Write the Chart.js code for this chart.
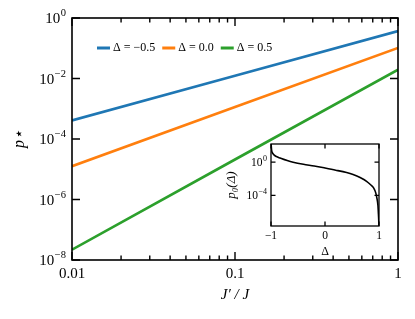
<!DOCTYPE html>
<html lang="en">
<head>
<meta charset="UTF-8">
<title>p* vs J'/J</title>
<script src="https://cdn.jsdelivr.net/npm/chart.js"></script>
<style>
  body { margin: 0; background: #fff; }
  #wrap { position: relative; width: 415px; height: 319px; }
  #main { position: absolute; left: 0; top: 0; }
  #inset { position: absolute; left: 222px; top: 140px; }
</style>
</head>
<body>
<div id="wrap">
  <canvas id="main" width="415" height="319"></canvas>
  <canvas id="inset" width="163" height="120"></canvas>
</div>
<script>
// main panel data
const ratio = [0.01, 0.1, 1];
const deltas = ['Δ = −0.5', 'Δ = 0.0', 'Δ = 0.5'];
const pBlue = [4.1e-4, 1.23e-2, 0.37];
const pOrange = [1.26e-5, 1.15e-3, 0.102];
const pGreen = [2.2e-8, 2.1e-5, 0.0195];
const colors = ['#1f77b4', '#ff7f0e', '#2ca02c'];
const xTicks = [0.01, 0.1, 1];
const yTicks = [1e-8, 1e-6, 1e-4, 1e-2, 1];

// inset data
const dGrid = [-0.999, -0.99, -0.97, -0.94, -0.9, -0.83, -0.7, -0.59, -0.4, -0.2, 0, 0.2, 0.4, 0.52, 0.65, 0.77, 0.85, 0.9, 0.94, 0.96, 0.98, 0.99, 0.995, 1.0];
const p0 = [200, 31, 12.6, 7.1, 4.8, 3.2, 1.6, 1.0, 0.56, 0.35, 0.2, 0.11, 0.056, 0.032, 0.014, 0.005, 0.0018, 8e-4, 2e-4, 5e-5, 6.3e-6, 5e-7, 1e-7, 1e-8];
const insetXTicks = [-1, 0, 1];
const insetYTicks = [1e-4, 1];

const serif = '"Liberation Serif", "DejaVu Serif", serif';

// minor ticks for the log x axis
const xMinor = [];
[0.01, 0.1].forEach(d => { for (let k = 2; k <= 9; k++) xMinor.push(d * k); });

// box with inward ticks on all four sides, plus 10^n labels on the y axis
function makeFrame(cfg) {
    return {
        id: 'frame',
        beforeDatasetsDraw(chart) {
            const a = chart.chartArea, ctx = chart.ctx;
            ctx.save();
            ctx.fillStyle = '#fff';
            ctx.fillRect(a.left, a.top, a.right - a.left, a.bottom - a.top);
            ctx.restore();
        },
        afterDraw(chart) {
            const a = chart.chartArea, ctx = chart.ctx;
            const xs = chart.scales.x, ys = chart.scales.y;
            ctx.save();
            ctx.strokeStyle = '#000';
            ctx.lineWidth = cfg.width;
            ctx.beginPath();
            const tick = (vals, len, horiz) => {
                vals.forEach(v => {
                    if (horiz) {
                        const px = xs.getPixelForValue(v);
                        ctx.moveTo(px, a.bottom); ctx.lineTo(px, a.bottom - len);
                        ctx.moveTo(px, a.top); ctx.lineTo(px, a.top + len);
                    } else {
                        const py = ys.getPixelForValue(v);
                        ctx.moveTo(a.left, py); ctx.lineTo(a.left + len, py);
                        ctx.moveTo(a.right, py); ctx.lineTo(a.right - len, py);
                    }
                });
            };
            tick(cfg.xMajor, cfg.major, true);
            tick(cfg.xMinor, cfg.minor, true);
            tick(cfg.yMajor, cfg.major, false);
            ctx.stroke();
            ctx.lineWidth = cfg.box;
            ctx.strokeRect(a.left, a.top, a.right - a.left, a.bottom - a.top);

            // y tick labels as 10 with a raised exponent
            ctx.fillStyle = '#000';
            cfg.yMajor.forEach(v => {
                const py = ys.getPixelForValue(v);
                const e = String(Math.round(Math.log10(v))).replace('-', '−');
                ctx.font = cfg.expSize + 'px ' + serif;
                const ew = ctx.measureText(e).width;
                const right = a.left - cfg.labelPad;
                ctx.textAlign = 'left';
                ctx.textBaseline = 'alphabetic';
                ctx.fillText(e, right - ew, py - cfg.expRaise);
                ctx.font = cfg.baseSize + 'px ' + serif;
                ctx.textAlign = 'right';
                ctx.fillText('10', right - ew - 0.5, py + cfg.baseDrop);
            });
            ctx.restore();
        }
    };
}

// legend drawn inside the plot area
const innerLegend = {
    id: 'innerLegend',
    afterDraw(chart) {
        const a = chart.chartArea, ctx = chart.ctx;
        let x = a.left + 25;
        const y = a.top + 30;
        ctx.save();
        ctx.font = '12px ' + serif;
        ctx.textBaseline = 'middle';
        chart.data.datasets.forEach(ds => {
            ctx.strokeStyle = ds.borderColor;
            ctx.lineWidth = 3;
            ctx.beginPath();
            ctx.moveTo(x, y); ctx.lineTo(x + 13, y);
            ctx.stroke();
            x += 16;
            ctx.fillStyle = '#000';
            ctx.fillText(ds.label, x, y);
            x += ctx.measureText(ds.label).width + 7;
        });
        ctx.restore();
    }
};

const series = [pBlue, pOrange, pGreen];

new Chart(document.getElementById('main'), {
    type: 'line',
    data: {
        datasets: series.map((s, i) => ({
            label: deltas[i],
            data: ratio.map((r, j) => ({ x: r, y: s[j] })),
            borderColor: colors[i],
            borderWidth: 2.6,
            pointRadius: 0,
            fill: false
        }))
    },
    options: {
        responsive: false,
        animation: false,
        layout: { padding: { top: 18, right: 17, left: 0, bottom: 0 } },
        plugins: {
            legend: { display: false },
            tooltip: { enabled: false }
        },
        scales: {
            x: {
                type: 'logarithmic',
                min: 0.01,
                max: 1,
                grid: { display: false, drawTicks: false },
                border: { display: false },
                afterBuildTicks: s => { s.ticks = xTicks.map(v => ({ value: v })); },
                afterFit: s => { s.height = 59; },
                ticks: {
                    autoSkip: false,
                    maxRotation: 0,
                    padding: 5,
                    color: '#000',
                    font: { family: serif, size: 15 },
                    callback: v => String(v)
                },
                title: {
                    display: true,
                    text: 'J′ / J',
                    color: '#000',
                    font: { family: serif, size: 15, style: 'italic' },
                    padding: { top: 0, bottom: 15 }
                }
            },
            y: {
                type: 'logarithmic',
                min: 1e-8,
                max: 1,
                grid: { display: false, drawTicks: false },
                border: { display: false },
                afterBuildTicks: s => { s.ticks = yTicks.map(v => ({ value: v })); },
                afterFit: s => { s.width = 72; },
                ticks: { display: false },
                title: {
                    display: true,
                    text: 'p⋆',
                    color: '#000',
                    font: { family: serif, size: 16, style: 'italic' },
                    padding: { top: 10, bottom: 0 }
                }
            }
        }
    },
    plugins: [makeFrame({
        xMajor: xTicks, xMinor: xMinor, yMajor: yTicks, major: 8, minor: 4.5, width: 1.4, box: 1.6,
        labelPad: 6, baseSize: 15, expSize: 10.5, baseDrop: 5, expRaise: 2
    }), innerLegend]
});

new Chart(document.getElementById('inset'), {
    type: 'line',
    data: {
        datasets: [{
            label: 'p0',
            data: dGrid.map((d, j) => ({ x: d, y: p0[j] })),
            borderColor: '#000',
            borderWidth: 1.6,
            pointRadius: 0,
            cubicInterpolationMode: 'monotone',
            fill: false
        }]
    },
    options: {
        responsive: false,
        animation: false,
        layout: { padding: { top: 4, right: 6, left: 0, bottom: 0 } },
        plugins: {
            legend: { display: false },
            tooltip: { enabled: false }
        },
        scales: {
            x: {
                type: 'linear',
                min: -1,
                max: 1,
                grid: { display: false, drawTicks: false },
                border: { display: false },
                afterBuildTicks: s => { s.ticks = insetXTicks.map(v => ({ value: v })); },
                afterFit: s => { s.height = 34; },
                ticks: {
                    autoSkip: false,
                    maxRotation: 0,
                    padding: 3,
                    color: '#000',
                    font: { family: serif, size: 11.5 },
                    callback: v => String(v).replace('-', '−')
                },
                title: {
                    display: true,
                    text: 'Δ',
                    color: '#000',
                    font: { family: serif, size: 12 },
                    padding: { top: 0, bottom: 1 }
                }
            },
            y: {
                type: 'logarithmic',
                min: Math.pow(10, -7.7),
                max: Math.pow(10, 2.2),
                grid: { display: false, drawTicks: false },
                border: { display: false },
                afterBuildTicks: s => { s.ticks = insetYTicks.map(v => ({ value: v })); },
                afterFit: s => { s.width = 49; },
                ticks: { display: false },
                title: {
                    display: true,
                    text: 'p₀(Δ)',
                    color: '#000',
                    font: { family: serif, size: 13, style: 'italic' },
                    padding: { top: 2, bottom: 0 }
                }
            }
        }
    },
    plugins: [makeFrame({
        xMajor: insetXTicks, xMinor: [], yMajor: insetYTicks, major: 4.5, minor: 2, width: 1.3, box: 1.3,
        labelPad: 4, baseSize: 11.5, expSize: 8, baseDrop: 4, expRaise: 1.5
    })]
});
</script>
</body>
</html>
